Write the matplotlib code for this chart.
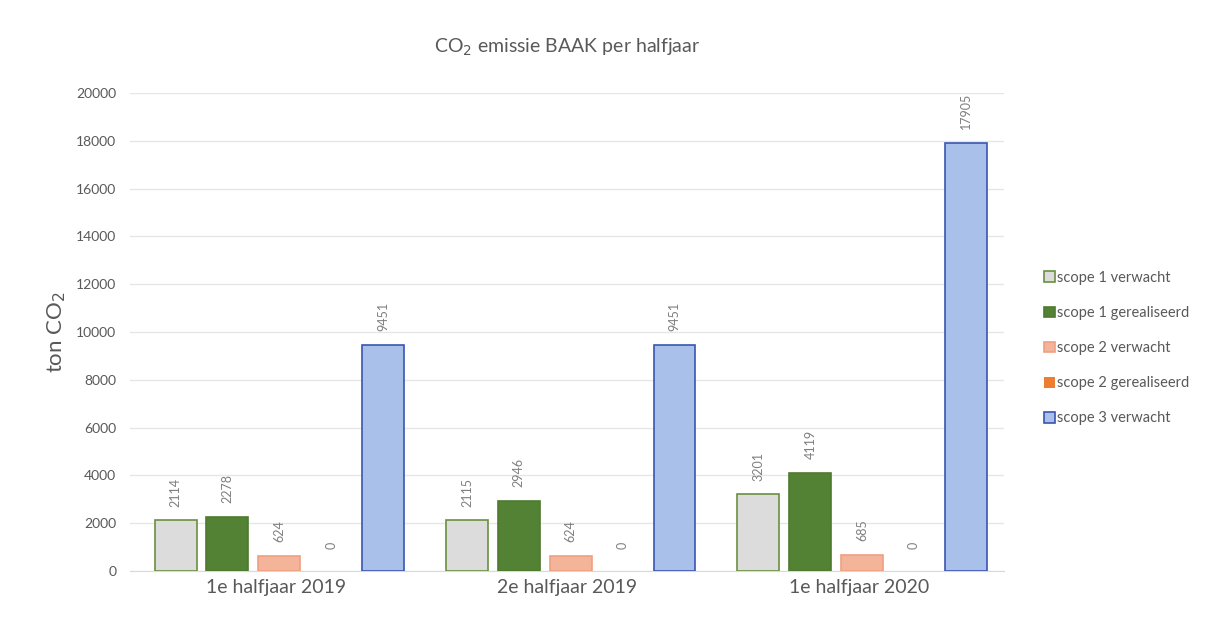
import matplotlib.pyplot as plt
import numpy as np

plt.rcParams['font.family'] = ['Lato', 'DejaVu Sans']

categories = ['1e halfjaar 2019', '2e halfjaar 2019', '1e halfjaar 2020']
series = ['scope 1 verwacht', 'scope 1 gerealiseerd', 'scope 2 verwacht',
          'scope 2 gerealiseerd', 'scope 3 verwacht']
s1_verwacht = [2114, 2115, 3201]
s1_gerealiseerd = [2278, 2946, 4119]
s2_verwacht = [624, 624, 685]
s2_gerealiseerd = [0, 0, 0]
s3_verwacht = [9451, 9451, 17905]

values = [s1_verwacht, s1_gerealiseerd, s2_verwacht, s2_gerealiseerd, s3_verwacht]
faces = ['#dcdcdc', '#548235', '#f4b49a', '#ed7d31', '#a9c0ea']
edges = ['#6a9040', '#4f7a30', '#f0a080', '#ed7d31', '#3a56b0']
lws = [1.2, 1.2, 1.2, 0, 1.2]

fig = plt.figure(figsize=(12.16, 6.25), dpi=100)
ax = fig.add_axes([0.107, 0.0864, 0.719, 0.765])

x = np.arange(len(categories))
step = 0.178
width = 0.144
gray = '#7f7f7f'

for i, (vals, fc, ec, lw, name) in enumerate(zip(values, faces, edges, lws, series)):
    pos = x + (i - 2) * step + 0.012
    ax.bar(pos, vals, width=width, color=fc, edgecolor=ec, linewidth=lw,
           label=name, zorder=3)
    for p, v in zip(pos, vals):
        off = 10 if v > 0 else 16
        ax.annotate(str(v), (p, v), xytext=(0, off), textcoords='offset points',
                    rotation=90, ha='center', va='bottom', fontsize=9, color=gray)

ax.set_xlim(-0.5, 2.5)
ax.set_ylim(0, 20000)
ax.set_yticks(np.arange(0, 20001, 2000))
ax.set_xticks(x)
ax.set_xticklabels(categories, fontsize=14, color='#595959')
ax.tick_params(axis='y', labelsize=10, colors='#595959', length=0, pad=10)
ax.tick_params(axis='x', length=0, pad=6)
ax.grid(axis='y', color='#e6e6e6', linewidth=1, zorder=0)
for s in ['top', 'right', 'left']:
    ax.spines[s].set_visible(False)
ax.spines['bottom'].set_color('#d9d9d9')

ax.set_ylabel('ton CO$_2$', fontsize=16, color='#595959', labelpad=6)
fig.text(0.466, 0.925, 'CO$_2$ emissie BAAK per halfjaar', fontsize=14,
         color='#595959', ha='center', va='center')

ax.legend(loc='center left', bbox_to_anchor=(1.03, 0.466), frameon=False,
          fontsize=10.5, labelcolor='#595959', handlelength=0.75, handleheight=0.75,
          handletextpad=0.15, labelspacing=1.45)

fig.savefig('out.png', dpi=100, facecolor='white')
